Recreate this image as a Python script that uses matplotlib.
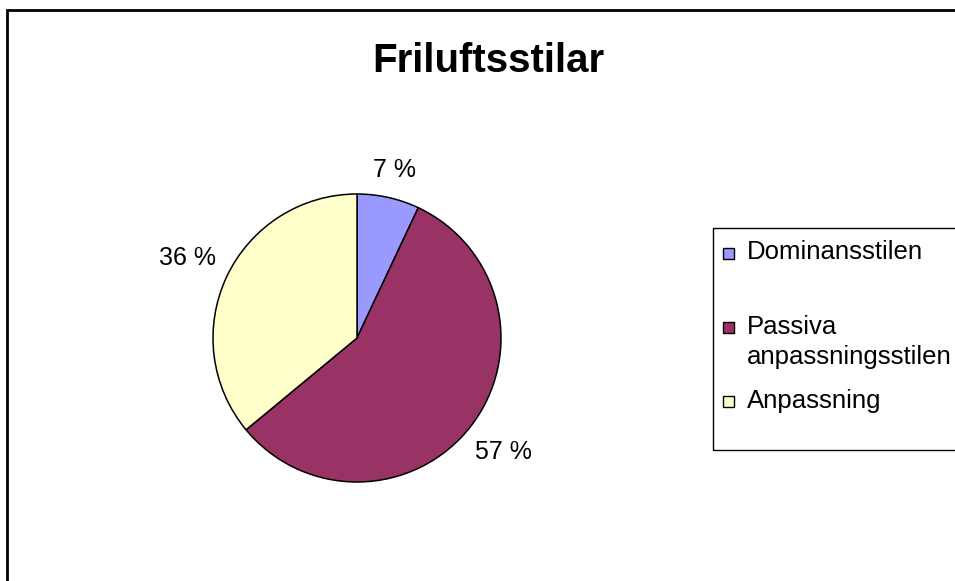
import matplotlib
matplotlib.use("Agg")
import numpy as np
import matplotlib.pyplot as plt
from matplotlib.patches import Rectangle

plt.rcParams['font.family'] = ['Liberation Sans', 'DejaVu Sans']

categories = ["Dominansstilen", "Passiva\nanpassningsstilen", "Anpassning"]
values = [7, 57, 36]
colors = ["#9999FF", "#993366", "#FFFFCC"]
title = "Friluftsstilar"

W, H = 955, 581
fig = plt.figure(figsize=(W / 100, H / 100), dpi=100)


def px(x, y):
    # pixel coords (top-left origin) -> figure fraction
    return x / W, 1 - y / H


# outer chart border (partly cut off at right/bottom)
fig.add_artist(Rectangle(px(7, 600), 1.1, (600 - 10) / H, transform=fig.transFigure,
                         fill=False, edgecolor="black", linewidth=2, clip_on=False))

# pie: center (357, 338), radius 144 px
cx, cy, r = 357, 338, 144
ax = fig.add_axes([(cx - r) / W, (H - cy - r) / H, 2 * r / W, 2 * r / H])
wedges, texts, autotexts = ax.pie(
    values, colors=colors, startangle=90, counterclock=False,
    autopct=lambda p: f"{p:.0f} %", pctdistance=1.2,
    wedgeprops=dict(edgecolor="black", linewidth=1.1),
    textprops=dict(fontsize=18, color="black"))
ax.set_xlim(-1, 1)
ax.set_ylim(-1, 1)
ax.set_aspect("equal")

# push the labels just outside the rim, like Excel's "outside end"
fig.canvas.draw()
for w, t in zip(wedges, autotexts):
    ang = np.deg2rad((w.theta1 + w.theta2) / 2)
    ux, uy = np.cos(ang), np.sin(ang)
    bb = t.get_window_extent()
    support = abs(ux) * bb.width / 2 + abs(uy) * bb.height / 2
    d = 1 + (12 + support) / r
    t.set_position((d * ux, d * uy))
    t.set_ha("center")
    t.set_va("center")

fig.text(*px(488, 72), title, ha="center", va="baseline",
         fontsize=29, fontweight="bold")

# legend box
lx, ly_top, ly_bot = 713, 228, 450
fig.add_artist(Rectangle(px(lx, ly_bot), 0.5, (ly_bot - ly_top) / H,
                         transform=fig.transFigure, fill=False,
                         edgecolor="black", linewidth=1, clip_on=False))
marker_y = [259, 333, 407]
text_y = [258, 333, 407]
for lab, col, ym, yt in zip(categories, colors, marker_y, text_y):
    fig.add_artist(Rectangle(px(723, ym), 11 / W, 11 / H,
                             transform=fig.transFigure, facecolor=col,
                             edgecolor="black", linewidth=1))
    # multi-line text aligned by its first line's top
    fig.text(*px(747, yt - 18), lab, ha="left", va="top", fontsize=18.5,
             linespacing=1.3)

fig.savefig("out.png", dpi=100)
